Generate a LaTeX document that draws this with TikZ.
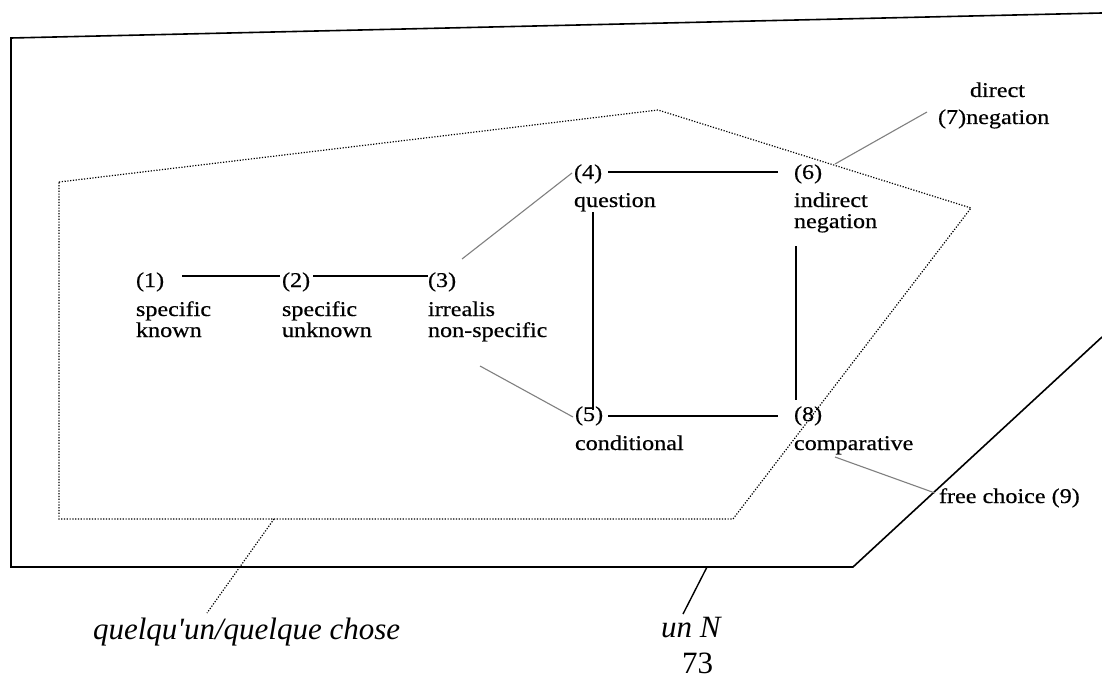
\documentclass[tikz,border=0pt]{standalone}
\usepackage{fontspec}
\setmainfont{Liberation Serif}
\newfontfamily\labfont[FakeStretch=1.15,FakeBold=0.5]{Liberation Serif}
\tikzset{
  lab/.style={inner sep=0pt, outer sep=0pt, anchor=base west, font=\labfont\fontsize{21}{21}\selectfont},
  big/.style={inner sep=0pt, outer sep=0pt, anchor=base west, font=\fontsize{31}{31}\selectfont\itshape},
  conn/.style={line width=1.6pt, black},
  thin/.style={line width=1.1pt, black!50},
  frame/.style={line width=1.6pt, black, line join=miter},
  dots/.style={line width=1.2pt, black, dash pattern=on 1.2pt off 1.6pt},
}
\begin{document}
\begin{tikzpicture}[x=1pt,y=-1pt]
\useasboundingbox (0,0) rectangle (1102,682);
\fill[white] (0,0) rectangle (1102,682);

% outer solid frame (un N)
\coordinate (o1) at (1102,13);
\coordinate (o2) at (11,38);
\coordinate (o3) at (11,567);
\coordinate (o4) at (853,567);
\coordinate (o5) at (1102,337);
\coordinate (op) at (707,567);
\draw[frame] (o1) -- (o2) -- (o3) -- (o4) -- (o5);

% dotted region (quelqu'un/quelque chose)
\coordinate (d1) at (59,182);
\coordinate (d2) at (658,110);
\coordinate (d3) at (971,208);
\coordinate (d4) at (733,519);
\coordinate (d5) at (59,519);
\coordinate (dp) at (274,519);
\draw[dots] (d1) -- (d2) -- (d3) -- (d4) -- (d5) -- cycle;

% number nodes
\node[lab] (n1) at (136,287) {(1)};
\node[lab] (n2) at (282,287) {(2)};
\node[lab] (n3) at (428,287) {(3)};
\node[lab] (n4) at (574,179) {(4)};
\node[lab] (n6) at (794,179) {(6)};
\node[lab] (n5) at (575,421) {(5)};
\node[lab] (n8) at (794,421) {(8)};
\node[lab] (n7) at (938,124) {(7)negation};
\node[lab] (n7a) at (970,97) {direct};
\node[lab] (n9) at (939,503) {free choice (9)};

% descriptions
\node[lab] (t1a) at (136,316) {specific};
\node[lab] (t1b) at (136,337) {known};
\node[lab] (t2a) at (282,316) {specific};
\node[lab] (t2b) at (282,337) {unknown};
\node[lab] (t3a) at (428,316) {irrealis};
\node[lab] (t3b) at (428,337) {non-specific};
\node[lab] (t4a) at (574,207) {question};
\node[lab] (t6a) at (794,207) {indirect};
\node[lab] (t6b) at (794,228) {negation};
\node[lab] (t5a) at (575,450) {conditional};
\node[lab] (t8a) at (794,450) {comparative};

% black connectors
\draw[conn] ([shift={(18,-11)}]n1.base east) -- ([shift={(-2,-11)}]n2.base west);
\draw[conn] ([shift={(3,-11)}]n2.base east) -- ([shift={(0,-11)}]n3.base west);
\draw[conn] ([shift={(6,-7)}]n4.base east) -- ([shift={(-16,-7)}]n6.base west);
\draw[conn] ([shift={(5,-5)}]n5.base east) -- ([shift={(-16,-5)}]n8.base west);
\draw[conn] ([shift={(19,33)}]n4.base west) -- ([shift={(18,-11)}]n5.base west);
\draw[conn] ([shift={(2,67)}]n6.base west) -- ([shift={(2,-21)}]n8.base west);

% grey connectors
\draw[thin] ([shift={(34,-28)}]n3.base west) -- ([shift={(-2,-6)}]n4.base west);
\draw[thin] ([shift={(52,79)}]n3.base west) -- ([shift={(-2,-4)}]n5.base west);
\draw[thin] ([shift={(41,-15)}]n6.base west) -- ([shift={(-11,-12)}]n7.base west);
\draw[thin] ([shift={(41,36)}]n8.base west) -- ([shift={(-4,-10)}]n9.base west);

% bottom labels
\node[big] (q) at (93,639) {quelqu\textquotesingle un/quelque chose};
\node[big] (u) at (661,637) {un N};
\node[inner sep=0pt, anchor=base west, font=\fontsize{31}{31}\selectfont] (p) at (682,673) {73};
\draw[dots] (dp) -- ([shift={(114,-26)}]q.base west);
\draw[line width=1.4pt] (op) -- ([shift={(22,-23)}]u.base west);
\end{tikzpicture}
\end{document}
